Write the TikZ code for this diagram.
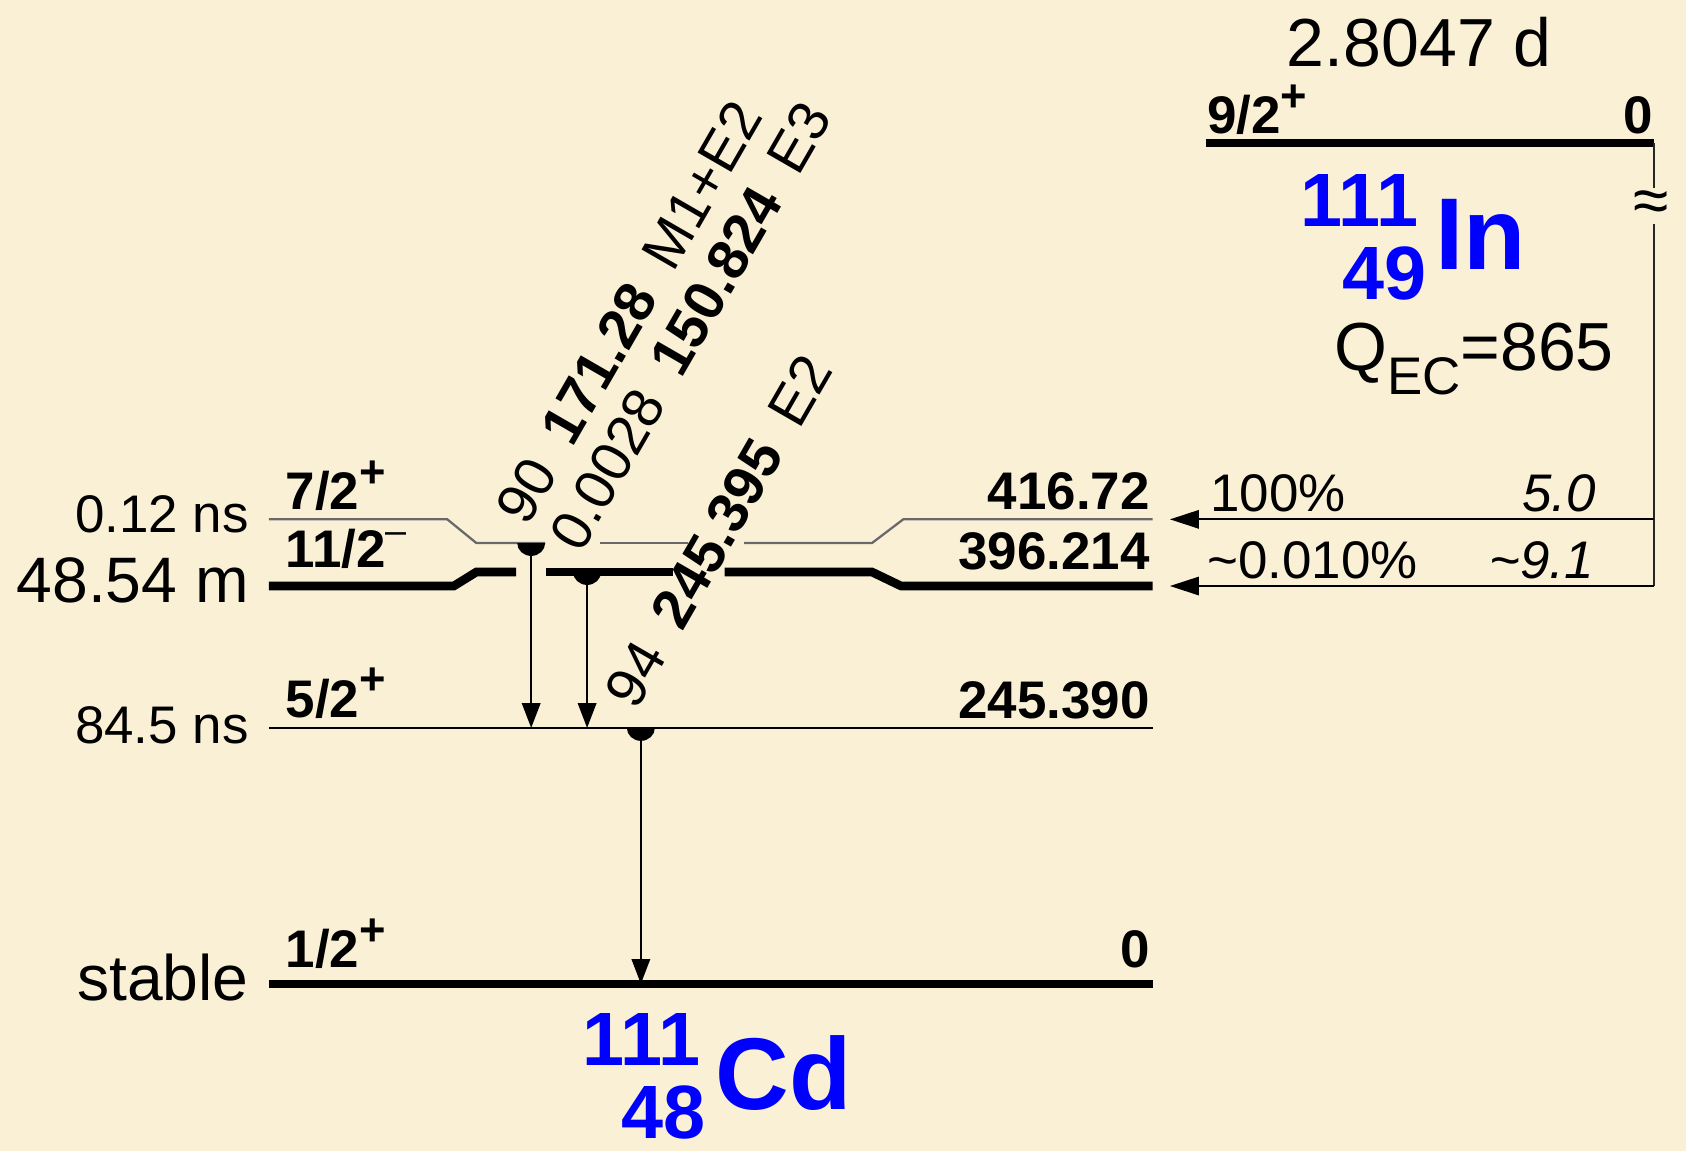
\documentclass[tikz,border=0pt]{standalone}
\usepackage{fontspec}
\setmainfont{Liberation Sans}
\usetikzlibrary{arrows.meta,positioning,calc}
\definecolor{parchment}{RGB}{250,240,214}
\definecolor{nucblue}{RGB}{0,0,255}
\definecolor{lvlgray}{RGB}{105,105,105}
\newcommand{\parup}[1]{\raisebox{0.42em}{\fontsize{12}{12}\selectfont\bfseries #1}}

\begin{document}
\begin{tikzpicture}[
thicklvl/.style={line width=2.3pt},
thinlvl/.style={line width=0.6pt},
spinlbl/.style={anchor=base west, inner sep=0pt, font=\fontsize{14}{16}\selectfont\bfseries},
enerlbl/.style={anchor=base east, inner sep=0pt, font=\fontsize{14}{16}\selectfont\bfseries},
halflbl/.style={anchor=base east, inner sep=0pt, font=\fontsize{14}{16}\selectfont},
biglbl/.style={anchor=base east, inner sep=0pt, font=\fontsize{17}{19}\selectfont},
gammaarr/.style={line width=0.6pt, -{Triangle[length=0.23cm,width=0.17cm]}},
gammalbl/.style={anchor=base west, inner sep=0pt, rotate=60, font=\fontsize{15}{17}\selectfont},
ecarr/.style={line width=0.6pt, -{Triangle[length=0.27cm,width=0.17cm]}},
eclbl/.style={inner sep=0pt, font=\fontsize{14}{16}\selectfont},
nucsym/.style={anchor=base west, inner sep=0pt, text=nucblue, font=\fontsize{27}{29}\selectfont\bfseries},
nucnum/.style={anchor=base east, inner sep=0pt, text=nucblue, font=\fontsize{20}{22}\selectfont\bfseries}
]

% ================= BACKGROUND =================
\fill[parchment] (0,0) rectangle (15.68,10.70);
\useasboundingbox (0,0) rectangle (15.68,10.70);

% ================= CD LEVELS =================
% 1/2+ ground state
\draw[thicklvl] (2.50,1.55) -- (10.72,1.55);
% 5/2+ 245.390
\draw[thinlvl] (2.50,3.93) -- (10.72,3.93);
% 11/2- 396.214 (isomer)
\draw[thicklvl] (2.50,5.25) -- (4.22,5.25) -- (4.43,5.38) -- (4.80,5.38);
\draw[thicklvl] (5.08,5.38) -- (6.26,5.38);
\draw[thicklvl] (6.74,5.38) -- (8.11,5.38) -- (8.38,5.25) -- (10.72,5.25);
% 7/2+ 416.72
\draw[thinlvl, lvlgray] (2.50,5.87) -- (4.16,5.87) -- (4.43,5.65) -- (5.07,5.65);
\draw[thinlvl, lvlgray] (5.58,5.65) -- (6.40,5.65);
\draw[thinlvl, lvlgray] (6.92,5.65) -- (8.11,5.65) -- (8.40,5.87) -- (10.72,5.87);

% spins
\node[spinlbl] (s72) at (2.65,5.96) {7/2\parup{+}};
\node[spinlbl] (s112) at (2.65,5.42) {11/2\raisebox{0.45em}{\fontsize{10}{10}\selectfont\mdseries –}};
\node[spinlbl] (s52) at (2.65,4.03) {5/2\parup{+}};
\node[spinlbl] (s12) at (2.65,1.70) {1/2\parup{+}};

% energies
\node[enerlbl] (e416) at (10.70,5.96) {416.72};
\node[enerlbl] (e396) at (10.70,5.40) {396.214};
\node[enerlbl] (e245) at (10.70,4.02) {245.390};
\node[enerlbl] (e0) at (10.70,1.70) {0};

% half-lives
\node[halflbl] (t416) at (2.32,5.75) {0.12 ns};
\node[biglbl] (t396) at (2.32,5.10) {48.54 m};
\node[halflbl] (t245) at (2.32,3.79) {84.5 ns};
\node[biglbl] (t0) at (2.32,1.40) {stable};

% ================= GAMMA TRANSITIONS =================
\coordinate (g1top) at (4.94,5.65);
\coordinate (g1bot) at (4.94,3.93);
\coordinate (g2top) at (5.46,5.38);
\coordinate (g2bot) at (5.46,3.93);
\coordinate (g3top) at (5.96,3.93);
\coordinate (g3bot) at (5.96,1.55);

\draw[gammaarr] (g1top) -- (g1bot);
\draw[gammaarr] (g2top) -- (g2bot);
\draw[gammaarr] (g3top) -- (g3bot);
\foreach \c in {g1top,g2top,g3top}
  \fill (\c) ++(-0.13,0) arc[start angle=180, end angle=360, x radius=0.13, y radius=0.12] -- cycle;

\node[gammalbl] (g1lbl) at (4.90,5.79) {90\hspace{0.5em}\textbf{171.28}\hspace{0.5em}M1+E2};
\node[gammalbl] (g2lbl) at (5.40,5.54) {0.0028\hspace{0.5em}\textbf{150.824}\hspace{0.5em}E3};
\node[gammalbl] (g3lbl) at (5.92,4.08) {94\hspace{0.5em}\textbf{245.395}\hspace{0.5em}E2};

% ================= IN PARENT =================
\draw[thicklvl] (11.22,9.37) -- (15.38,9.37);
\node[spinlbl] (s92) at (11.22,9.46) {9/2\parup{+}};
\node[enerlbl] (ein) at (15.38,9.46) {0};
\node[anchor=base, inner sep=0pt, font=\fontsize{18}{20}\selectfont] (tin) at (13.20,10.08) {2.8047 d};

\coordinate (inR) at (15.38,9.37);
\coordinate (ecA) at (15.38,5.87);
\coordinate (ecB) at (15.38,5.25);
\coordinate (tipA) at (10.88,5.87);
\coordinate (tipB) at (10.88,5.25);

\draw[line width=0.6pt, black!85] (inR) -- (ecB);
\node[fill=parchment, inner xsep=0pt, inner ysep=0.02cm, font=\fontsize{17}{17}\selectfont] (brk) at (15.36,8.78) {≈};
\draw[ecarr] (ecA) -- (tipA);
\draw[ecarr] (ecB) -- (tipB);

\node[eclbl, anchor=base west] (ib1) at (11.25,5.94) {100\%};
\node[eclbl, anchor=base east] (lf1) at (14.85,5.94) {\itshape 5.0};
\node[eclbl, anchor=base west] (ib2) at (11.22,5.32) {\textasciitilde 0.010\%};
\node[eclbl, anchor=base east] (lf2) at (14.83,5.32) {\itshape\textasciitilde 9.1};

\node[anchor=base west, inner sep=0pt, font=\fontsize{18}{20}\selectfont] (qec) at (12.40,7.25)
{Q\raisebox{-0.22cm}{\fontsize{14}{14}\selectfont EC}=865};

% ================= NUCLIDE LABELS =================
\node[nucsym] (insym) at (13.34,8.19) {In};
\node[nucnum] (inmass) at (13.20,8.59) {111};
\node[nucnum] (inz) at (13.27,7.91) {49};

\node[nucsym] (cdsym) at (6.65,0.38) {Cd};
\node[nucnum] (cdmass) at (6.52,0.79) {111};
\node[nucnum] (cdz) at (6.57,0.11) {48};

\end{tikzpicture}
\end{document}
